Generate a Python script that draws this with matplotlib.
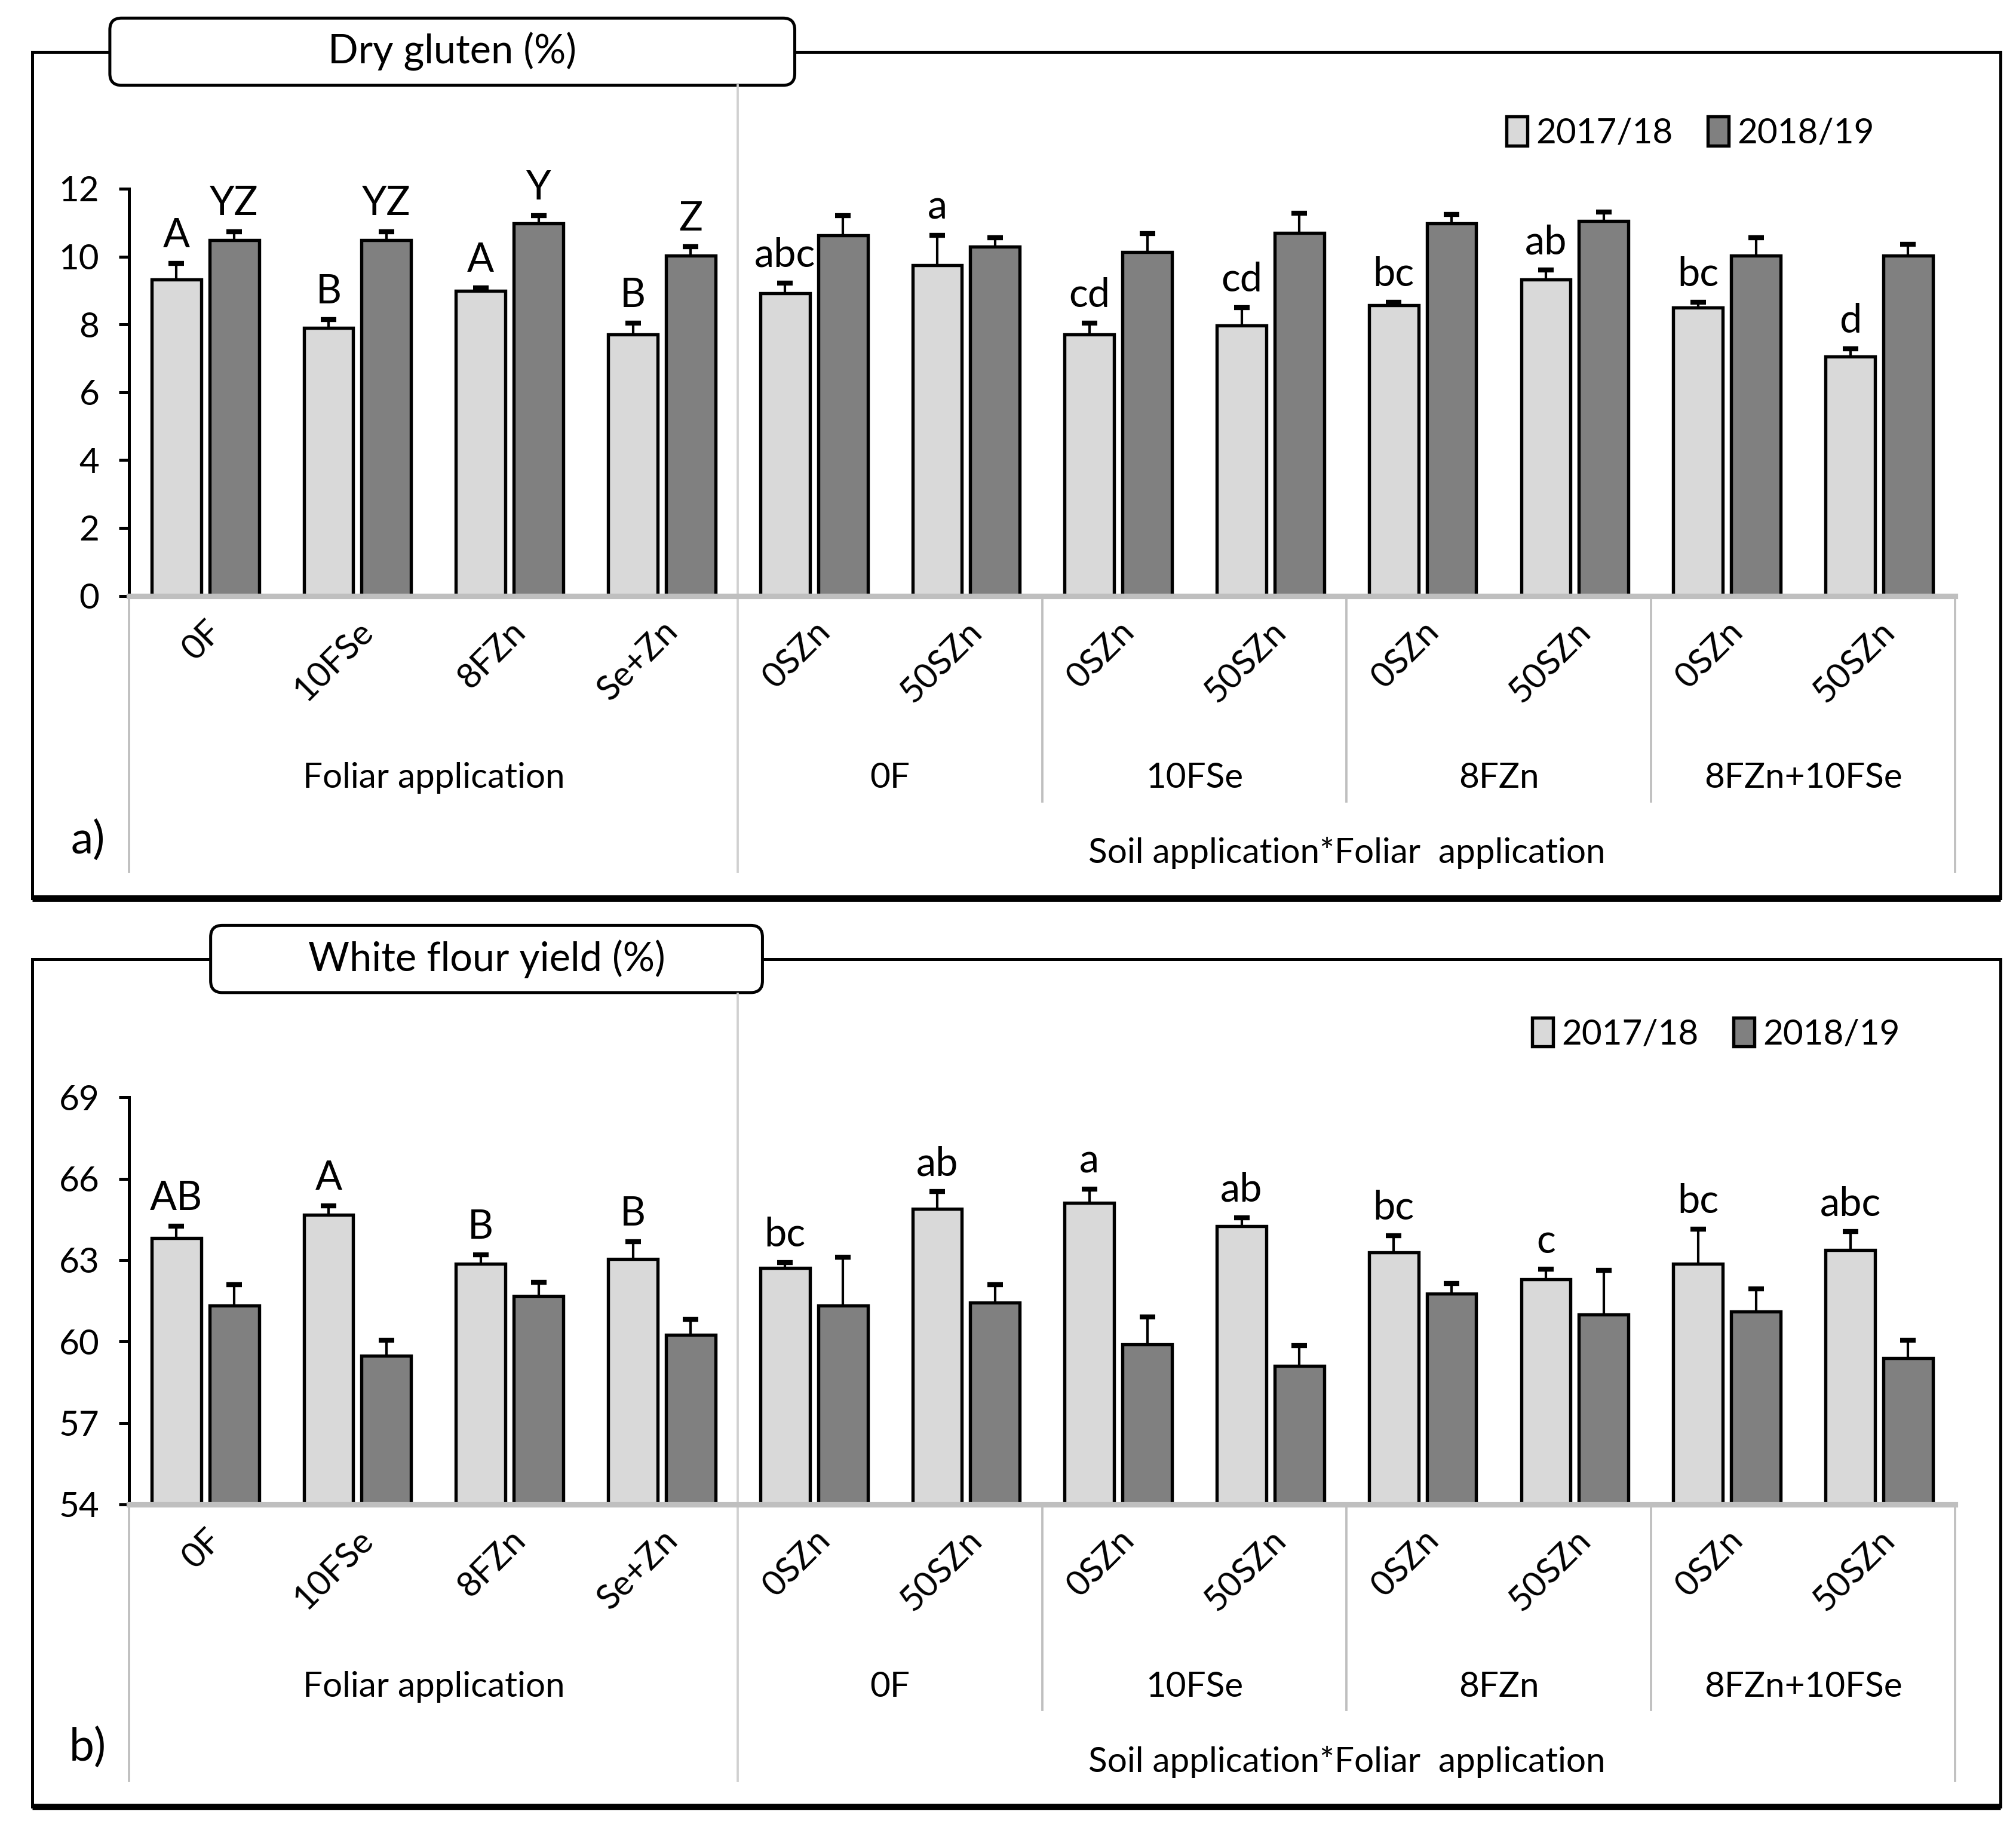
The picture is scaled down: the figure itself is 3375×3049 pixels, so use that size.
import numpy as np
import matplotlib
matplotlib.use('Agg')
import matplotlib.pyplot as plt
import matplotlib.transforms as mtransforms
from matplotlib.patches import Rectangle, FancyBboxPatch, Patch

plt.rcParams['font.family'] = ['Lato', 'DejaVu Sans']

# categories
treatments = ['0F', '10FSe', '8FZn', 'Se+Zn',
              '0SZn', '50SZn', '0SZn', '50SZn', '0SZn', '50SZn', '0SZn', '50SZn']
groups = ['Foliar application', '0F', '10FSe', '8FZn', '8FZn+10FSe']
group_centers = [1.5, 4.5, 6.5, 8.5, 10.5]
outer_label = 'Soil application*Foliar  application'
seasons = ['2017/18', '2018/19']

# a) dry gluten (%)
gluten_1718 = [9.33, 7.89, 8.99, 7.70, 8.91, 9.75, 7.70, 7.96, 8.57, 9.33, 8.50, 7.05]
gluten_1718_err = [0.46, 0.26, 0.08, 0.34, 0.31, 0.88, 0.34, 0.54, 0.08, 0.27, 0.15, 0.23]
gluten_1819 = [10.48, 10.48, 10.97, 10.02, 10.63, 10.29, 10.13, 10.70, 10.97, 11.05, 10.02, 10.02]
gluten_1819_err = [0.26, 0.26, 0.23, 0.27, 0.57, 0.26, 0.54, 0.58, 0.27, 0.26, 0.53, 0.34]
gluten_let_1718 = ['A', 'B', 'A', 'B', 'abc', 'a', 'cd', 'cd', 'bc', 'ab', 'bc', 'd']
gluten_let_1819 = ['YZ', 'YZ', 'Y', 'Z', '', '', '', '', '', '', '', '']

# b) white flour yield (%)
flour_1718 = [63.81, 64.67, 62.86, 63.05, 62.71, 64.90, 65.10, 64.24, 63.29, 62.29, 62.86, 63.38]
flour_1718_err = [0.43, 0.33, 0.33, 0.62, 0.19, 0.62, 0.52, 0.33, 0.61, 0.38, 1.28, 0.67]
flour_1819 = [61.33, 59.48, 61.67, 60.24, 61.33, 61.43, 59.90, 59.10, 61.76, 61.00, 61.10, 59.38]
flour_1819_err = [0.77, 0.57, 0.52, 0.57, 1.77, 0.67, 1.00, 0.76, 0.38, 1.62, 0.85, 0.67]
flour_let_1718 = ['AB', 'A', 'B', 'B', 'bc', 'ab', 'a', 'ab', 'bc', 'c', 'bc', 'abc']
flour_let_1819 = [''] * 12

LIGHT = '#d9d9d9'
DARK = '#808080'
GRID = '#bfbfbf'

W, H = 1560, 1409  # layout units (scaled reference)
fig = plt.figure(figsize=(3375 / 300, 3049 / 300), dpi=300)

# overlay for boxes and titles
ov = fig.add_axes([0, 0, 1, 1], zorder=0)
ov.set_xlim(0, W)
ov.set_ylim(H, 0)
ov.axis('off')


def frame(top, bottom, tb_x, tb_w, title, tag, tag_y):
    ov.add_patch(Rectangle((25, top), 1523, bottom - top, fill=False, ec='black', lw=1.2))
    ov.plot([25, 1548], [bottom, bottom], color='black', lw=2.6, solid_capstyle='butt')
    ov.add_patch(FancyBboxPatch((tb_x, top - 26), tb_w, 52,
                                boxstyle='round,pad=0,rounding_size=9',
                                fc='white', ec='black', lw=1.2))
    ov.text(tb_x + tb_w / 2, top, title, ha='center', va='center', fontsize=16)
    ov.text(68, tag_y, tag, ha='center', va='center', fontsize=18)


frame(40, 695, 85, 530, 'Dry gluten (%)', 'a)', 650)
frame(742, 1398, 163, 427, 'White flour yield (%)', 'b)', 1352)


def panel(bottom_px, v1, e1, v2, e2, l1, l2, ylim, yticks, leg_xy):
    ax = fig.add_axes([100 / W, 1 - bottom_px / H, 1413 / W, 315 / H], zorder=1)
    ax.set_facecolor('none')
    x = np.arange(len(treatments))
    off, bw = 0.19, 0.325
    for xs, v, e, col, labs in [(x - off, v1, e1, LIGHT, l1), (x + off, v2, e2, DARK, l2)]:
        ax.bar(xs, v, bw, color=col, edgecolor='black', lw=1.3, zorder=2)
        eb = ax.errorbar(xs, v, yerr=[np.zeros(len(v)), e], fmt='none', ecolor='black',
                         elinewidth=1.0, capsize=3.2, capthick=2.0, zorder=3)
        for cl in eb[1]:
            if np.allclose(cl.get_ydata(), v):
                cl.set_visible(False)
        for xi, vi, ei, t in zip(xs, v, e, labs):
            if t:
                ax.annotate(t, (xi, vi + ei), xytext=(0, 6.5), textcoords='offset points',
                            ha='center', va='baseline', fontsize=16)
    ax.set_xlim(-0.5, len(treatments) - 0.5)
    ax.set_ylim(*ylim)
    ax.set_yticks(yticks)
    ax.tick_params(axis='y', direction='out', length=4, width=1.2, labelsize=14, pad=8)
    ax.set_xticks([])
    for s in ['top', 'right']:
        ax.spines[s].set_visible(False)
    ax.spines['left'].set_linewidth(1.2)
    ax.spines['bottom'].set_color(GRID)
    ax.spines['bottom'].set_linewidth(2.2)

    tr = mtransforms.blended_transform_factory(ax.transData, ax.transAxes)
    for i, t in enumerate(treatments):
        ax.text(i + 0.07, -0.075, t, transform=tr, rotation=45, ha='right', va='center',
                rotation_mode='anchor', fontsize=14)
    for c, g in zip(group_centers, groups):
        ax.text(c, -0.448, g, transform=tr, ha='center', va='center', fontsize=14)
    ax.text(7.5, -0.632, outer_label, transform=tr, ha='center', va='center', fontsize=14)
    seps = [(-0.5, 0, -0.679, GRID), (3.5, 1.254, -0.679, '#d0d0d0'),
            (5.5, 0, -0.505, GRID), (7.5, 0, -0.505, GRID), (9.5, 0, -0.505, GRID),
            (11.5, 0, -0.679, GRID)]
    for sx, y0, y1, col in seps:
        ax.plot([sx, sx], [y0, y1], transform=tr, color=col, lw=0.9, clip_on=False, zorder=1)

    handles = [Patch(facecolor=LIGHT, edgecolor='black', lw=1.3),
               Patch(facecolor=DARK, edgecolor='black', lw=1.3)]
    ax.legend(handles, seasons, loc='center', bbox_to_anchor=leg_xy, ncol=2, frameon=False,
              handlelength=0.6, handleheight=0.9, handletextpad=0.25, columnspacing=1.0,
              fontsize=14)
    return ax


panel(461, gluten_1718, gluten_1718_err, gluten_1819, gluten_1819_err,
      gluten_let_1718, gluten_let_1819, (0, 12), [0, 2, 4, 6, 8, 10, 12], (0.855, 1.137))
panel(1164, flour_1718, flour_1718_err, flour_1819, flour_1819_err,
      flour_let_1718, flour_let_1819, (54, 69), [54, 57, 60, 63, 66, 69], (0.869, 1.156))

fig.savefig('out.png', dpi=300)
